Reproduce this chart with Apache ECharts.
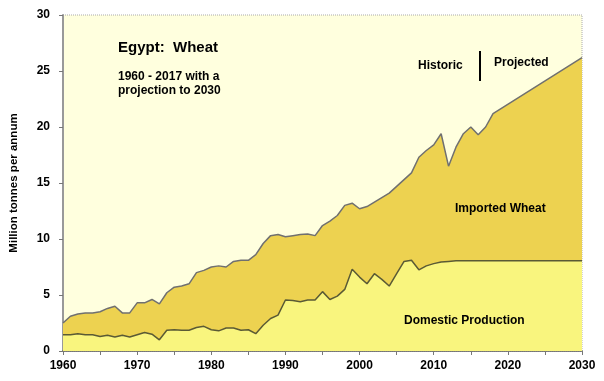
<!DOCTYPE html>
<html>
<head>
<meta charset="utf-8">
<script src="https://cdn.jsdelivr.net/npm/echarts@6/dist/echarts.min.js"></script>
<style>
html,body{margin:0;padding:0;background:#ffffff;}
#chart{width:604px;height:381px;}
</style>
</head>
<body>
<div id="chart"></div>
<script>
// Total wheat supply (domestic + imported), million tonnes
const totalYears = [1960,1961,1962,1963,1964,1965,1966,1967,1968,1969,1970,1971,1972,1973,1974,1975,1976,1977,1978,1979,1980,1981,1982,1983,1984,1985,1986,1987,1988,1989,1990,1991,1992,1993,1994,1995,1996,1997,1998,1999,2000,2001,2002,2003,2004,2005,2006,2007,2008,2009,2010,2011,2012,2013,2014,2015,2016,2017,2018,2030];
const totalValues = [2.5,3.1,3.3,3.4,3.4,3.5,3.8,4.0,3.4,3.4,4.3,4.3,4.6,4.2,5.2,5.7,5.8,6.0,7.0,7.2,7.5,7.6,7.5,8.0,8.1,8.1,8.6,9.6,10.3,10.4,10.2,10.3,10.4,10.45,10.3,11.2,11.6,12.1,13.0,13.2,12.7,12.9,13.3,13.7,14.1,14.7,15.3,15.9,17.3,17.9,18.4,19.4,16.5,18.2,19.4,20.0,19.3,20.0,21.2,26.2];
// Domestic production, million tonnes
const domYears = [1960,1961,1962,1963,1964,1965,1966,1967,1968,1969,1970,1971,1972,1973,1974,1975,1976,1977,1978,1979,1980,1981,1982,1983,1984,1985,1986,1987,1988,1989,1990,1991,1992,1993,1994,1995,1996,1997,1998,1999,2000,2001,2002,2003,2004,2005,2006,2007,2008,2009,2010,2011,2012,2013,2014,2030];
const domValues = [1.45,1.45,1.55,1.45,1.45,1.3,1.4,1.25,1.4,1.25,1.45,1.65,1.5,1.0,1.85,1.9,1.85,1.85,2.1,2.2,1.9,1.8,2.05,2.05,1.85,1.9,1.55,2.3,2.9,3.2,4.55,4.5,4.4,4.55,4.55,5.3,4.6,4.9,5.5,7.3,6.6,6.0,6.9,6.4,5.8,6.9,8.0,8.1,7.25,7.6,7.8,7.95,8.0,8.05,8.05,8.05];
const yTicks = [0,5,10,15,20,25,30];
const xLabelYears = [1960,1970,1980,1990,2000,2010,2020,2030];

const totalData = totalYears.map((y,i)=>[y,totalValues[i]]);
const domData = domYears.map((y,i)=>[y,domValues[i]]);

const chart = echarts.init(document.getElementById('chart'), null, {renderer:'canvas'});
const FONT = '"Liberation Sans", Arial, sans-serif';
chart.setOption({
  animation:false,
  backgroundColor:'#ffffff',
  grid:{left:61,right:22,top:15,bottom:30,show:true,backgroundColor:'#FFFFDE',borderColor:'#aaaaaa',borderWidth:1,borderType:'dotted'},
  xAxis:{type:'value',min:1960,max:2030,interval:5,
    axisLine:{lineStyle:{color:'#555555',width:1.5}},
    axisTick:{show:true,length:4,lineStyle:{color:'#777777'}},
    splitLine:{show:false},
    axisLabel:{color:'#000',fontFamily:FONT,fontWeight:'bold',fontSize:12,margin:9,
      formatter:v=> xLabelYears.indexOf(v)>=0 ? String(v) : ''}
  },
  yAxis:{type:'value',min:0,max:30,interval:5,
    name:'Million tonnes per annum',nameLocation:'middle',nameGap:43,
    nameTextStyle:{color:'#000',fontFamily:FONT,fontWeight:'bold',fontSize:11.5},
    axisLine:{show:true,lineStyle:{color:'#999999',width:2}},
    axisTick:{show:true,length:4,lineStyle:{color:'#777777'}},
    splitLine:{show:false},
    axisLabel:{color:'#000',fontFamily:FONT,fontWeight:'bold',fontSize:12,margin:13,
      formatter:v=> yTicks.indexOf(v)>=0 ? String(v) : ''}
  },
  series:[
    {name:'Imported Wheat',type:'line',data:totalData,symbol:'none',
      lineStyle:{color:'#707070',width:1.5},
      areaStyle:{color:'#EDD250',opacity:1},z:2},
    {name:'Domestic Production',type:'line',data:domData,symbol:'none',
      lineStyle:{color:'#5a5a35',width:1.5},
      areaStyle:{color:'#F9F57E',opacity:1},z:3}
  ],
  graphic:{elements:[
    {type:'text',z:100,left:118,top:40,style:{text:'Egypt:  Wheat',font:'bold 15px '+FONT,fill:'#000'}},
    {type:'text',z:100,left:118,top:70,style:{text:'1960 - 2017 with a\nprojection to 2030',font:'bold 12px '+FONT,fill:'#000',lineHeight:14}},
    {type:'text',z:100,left:418,top:60,style:{text:'Historic',font:'bold 12px '+FONT,fill:'#000'}},
    {type:'line',z:100,shape:{x1:480,y1:51,x2:480,y2:81},style:{stroke:'#000',lineWidth:2}},
    {type:'text',z:100,left:494,top:57,style:{text:'Projected',font:'bold 12px '+FONT,fill:'#000'}},
    {type:'text',z:100,left:455,top:203,style:{text:'Imported Wheat',font:'bold 12px '+FONT,fill:'#000'}},
    {type:'text',z:100,left:404,top:315,style:{text:'Domestic Production',font:'bold 12px '+FONT,fill:'#000'}}
  ]}
});
</script>
</body>
</html>
